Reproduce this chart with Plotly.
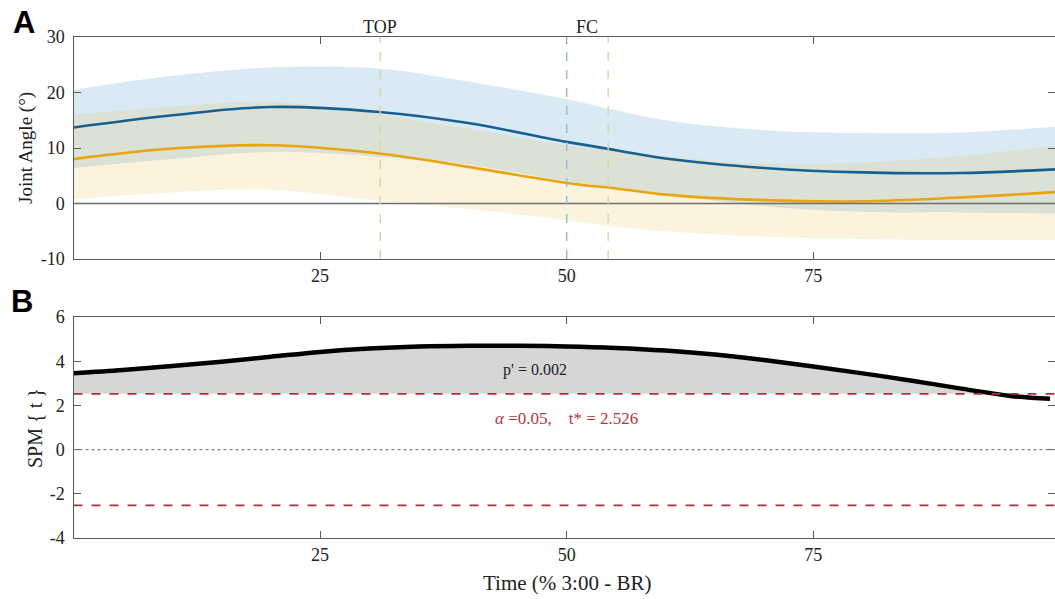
import numpy as np
import plotly.graph_objects as go

# ---------------- data ----------------
time_a = [0, 10, 20, 31, 40, 50, 55, 60, 70, 80, 90, 100]
blue_mean = [13.7, 15.9, 17.4, 16.5, 14.5, 11.1, 9.6, 8.1, 6.4, 5.6, 5.5, 6.2]
blue_upper = [20.5, 23.0, 24.5, 24.3, 22.0, 18.8, 16.8, 15.0, 13.2, 12.7, 12.8, 13.9]
blue_lower = [6.4, 8.0, 9.3, 8.4, 7.0, 4.0, 2.8, 1.6, -0.5, -1.5, -1.6, -1.8]
yellow_mean = [8.0, 9.9, 10.5, 9.0, 6.6, 3.7, 2.7, 1.6, 0.6, 0.4, 1.1, 2.1]
yellow_upper = [16.0, 17.5, 18.3, 16.0, 13.5, 10.5, 9.5, 8.5, 7.2, 7.4, 8.6, 10.5]
yellow_lower = [0.8, 2.0, 2.5, 0.5, -1.0, -3.0, -4.2, -5.0, -6.0, -6.4, -6.6, -6.6]

events_x = [31.1, 50.0, 54.2]
events_color = ["#ddd49a", "#8dbddb", "#ddd49a"]
event_labels = ["TOP", "FC"]
event_label_x = [31.1, 52.1]

time_b = [0, 5, 10, 15, 20, 25, 30, 35, 40, 45, 50, 55, 60, 65, 70, 75, 80, 85, 90, 95, 99]
spm_t = [3.45, 3.6, 3.78, 3.98, 4.2, 4.42, 4.57, 4.66, 4.7, 4.7, 4.67, 4.6, 4.48,
         4.3, 4.05, 3.76, 3.45, 3.12, 2.76, 2.43, 2.3]
t_crit = 2.526
p_text = "p' = 0.002"

a_yticks = [-10, 0, 10, 20, 30]
a_yticklabels = ["-10", "0", "10", "20", "30"]
b_yticks = [-4, -2, 0, 2, 4, 6]
b_yticklabels = ["-4", "-2", "0", "2", "4", "6"]
x_ticks = [25, 50, 75]
x_ticklabels = ["25", "50", "75"]

# ---------------- layout geometry ----------------
W, H = 1055, 599
def px_x(p):
    return p / W
def px_y(p):
    return 1 - p / H

serif = "Liberation Serif, Times New Roman, serif"
sans = "Liberation Sans, Arial, sans-serif"
axcol = "#5a5a5a"

fig = go.Figure()

# ---- Panel A bands (blue first, then yellow) ----
fig.add_trace(go.Scatter(x=time_a, y=blue_lower, mode="lines", line=dict(width=0, shape="spline"),
                         showlegend=False, hoverinfo="skip", xaxis="x", yaxis="y"))
fig.add_trace(go.Scatter(x=time_a, y=blue_upper, mode="lines", line=dict(width=0, shape="spline"),
                         fill="tonexty", fillcolor="rgba(0,114,189,0.15)",
                         showlegend=False, hoverinfo="skip", xaxis="x", yaxis="y"))
fig.add_trace(go.Scatter(x=time_a, y=yellow_lower, mode="lines", line=dict(width=0, shape="spline"),
                         showlegend=False, hoverinfo="skip", xaxis="x", yaxis="y"))
fig.add_trace(go.Scatter(x=time_a, y=yellow_upper, mode="lines", line=dict(width=0, shape="spline"),
                         fill="tonexty", fillcolor="rgba(237,177,32,0.15)",
                         showlegend=False, hoverinfo="skip", xaxis="x", yaxis="y"))
fig.add_trace(go.Scatter(x=time_a, y=blue_mean, mode="lines",
                         line=dict(color="#17608f", width=2.6, shape="spline"),
                         showlegend=False, xaxis="x", yaxis="y"))
fig.add_trace(go.Scatter(x=time_a, y=yellow_mean, mode="lines",
                         line=dict(color="#e8a512", width=2.6, shape="spline"),
                         showlegend=False, xaxis="x", yaxis="y"))

# ---- Panel B ----
clip = np.maximum(np.array(spm_t), t_crit)
fig.add_trace(go.Scatter(x=time_b, y=[t_crit] * len(time_b), mode="lines", line=dict(width=0),
                         showlegend=False, hoverinfo="skip", xaxis="x2", yaxis="y2"))
fig.add_trace(go.Scatter(x=time_b, y=clip, mode="lines", line=dict(width=0),
                         fill="tonexty", fillcolor="#d6d6d6",
                         showlegend=False, hoverinfo="skip", xaxis="x2", yaxis="y2"))
fig.add_trace(go.Scatter(x=time_b, y=spm_t, mode="lines",
                         line=dict(color="black", width=4.5, shape="spline"),
                         showlegend=False, xaxis="x2", yaxis="y2"))

shapes = []
shapes.append(dict(type="line", xref="x domain", yref="y", x0=0, x1=1, y0=0, y1=0,
                   line=dict(color="#6e6e6e", width=1.6)))
for ex, ec in zip(events_x, events_color):
    shapes.append(dict(type="line", xref="x", yref="y domain", x0=ex, x1=ex, y0=0, y1=1,
                       line=dict(color=ec, width=1.4, dash="dash")))
for yy in (t_crit, -t_crit):
    shapes.append(dict(type="line", xref="x2 domain", yref="y2", x0=0, x1=1, y0=yy, y1=yy,
                       line=dict(color="#a8323c", width=1.8, dash="dash")))
shapes.append(dict(type="line", xref="x2 domain", yref="y2", x0=0, x1=1, y0=0, y1=0,
                   line=dict(color="#8a8a8a", width=1.4, dash="dot")))

annotations = []
for lab, lx in zip(event_labels, event_label_x):
    annotations.append(dict(text=lab, x=lx, xref="x", y=px_y(27), yref="paper",
                            showarrow=False, font=dict(family=serif, size=18, color="#222"),
                            xanchor="center", yanchor="middle"))
annotations += [
    dict(text="<b>A</b>", x=px_x(24), y=px_y(23), xref="paper", yref="paper", showarrow=False,
         font=dict(family=sans, size=31, color="black"), xanchor="center", yanchor="middle"),
    dict(text="<b>B</b>", x=px_x(22), y=px_y(301), xref="paper", yref="paper", showarrow=False,
         font=dict(family=sans, size=31, color="black"), xanchor="center", yanchor="middle"),
    dict(text="Joint Angle (°)", x=px_x(26), y=px_y(148), xref="paper", yref="paper",
         showarrow=False, textangle=-90, font=dict(family=serif, size=19, color="#222"),
         xanchor="center", yanchor="middle"),
    dict(text="SPM { t }", x=px_x(35), y=px_y(428), xref="paper", yref="paper",
         showarrow=False, textangle=-90, font=dict(family=serif, size=20, color="#222"),
         xanchor="center", yanchor="middle"),
    dict(text="Time (% 3:00 - BR)", x=px_x(567), y=px_y(583), xref="paper", yref="paper",
         showarrow=False, font=dict(family=serif, size=21, color="#222"),
         xanchor="center", yanchor="middle"),
    dict(text=p_text, x=46.8, xref="x2", y=px_y(370), yref="paper", showarrow=False,
         font=dict(family=serif, size=16, color="#222"), xanchor="center", yanchor="middle"),
    dict(text="<i>α</i>\u00a0=0.05,\u00a0\u00a0\u00a0\u00a0t* = 2.526", x=50.0, xref="x2",
         y=px_y(418), yref="paper", showarrow=False,
         font=dict(family=serif, size=17, color="#b5343f"), xanchor="center", yanchor="middle"),
]

xdom = [px_x(73.5), 1.0]
xrange_ = [0, 99.5]
common_x = dict(range=xrange_, domain=xdom, tickvals=x_ticks, ticktext=x_ticklabels,
                ticks="inside", ticklen=7,
                tickcolor=axcol, tickwidth=1.2, showline=True, linecolor=axcol, linewidth=1.3,
                mirror="ticks", showgrid=False, zeroline=False, automargin=False,
                tickfont=dict(family=serif, size=18, color="#222"))
common_y = dict(ticks="inside", ticklen=7, tickcolor=axcol, tickwidth=1.2, showline=True,
                linecolor=axcol, linewidth=1.3, mirror="ticks", showgrid=False, zeroline=False,
                automargin=False,
                tickfont=dict(family=serif, size=18, color="#222"), ticklabelstandoff=4)

fig.update_layout(
    width=W, height=H, autosize=False,
    margin=dict(l=0, r=0, t=0, b=0, pad=0, autoexpand=False),
    paper_bgcolor="white", plot_bgcolor="white",
    showlegend=False,
    xaxis=dict(anchor="y", **common_x),
    yaxis=dict(anchor="x", range=[-10, 30], tickvals=a_yticks, ticktext=a_yticklabels,
               domain=[px_y(259), px_y(37)], **common_y),
    xaxis2=dict(anchor="y2", **common_x),
    yaxis2=dict(anchor="x2", range=[-4, 6], tickvals=b_yticks, ticktext=b_yticklabels,
                domain=[px_y(538), px_y(317)], **common_y),
    shapes=shapes,
    annotations=annotations,
)

post = ("document.body.style.margin='0';document.body.style.padding='0';"
        "document.body.style.overflow='hidden';"
        "document.documentElement.style.overflow='hidden';")
fig.write_html("out.html", post_script=post, config={"displayModeBar": False})
